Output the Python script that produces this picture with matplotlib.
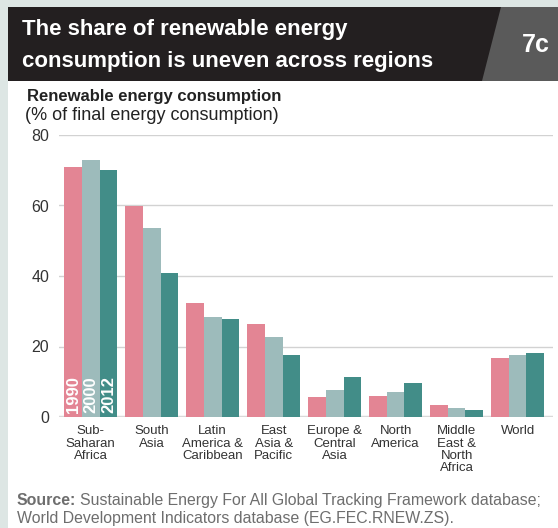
import matplotlib.pyplot as plt
import numpy as np
from matplotlib.patches import Polygon, Rectangle

regions = ["Sub-\nSaharan\nAfrica", "South\nAsia", "Latin\nAmerica &\nCaribbean",
           "East\nAsia &\nPacific", "Europe &\nCentral\nAsia", "North\nAmerica",
           "Middle\nEast &\nNorth\nAfrica", "World"]
years = ["1990", "2000", "2012"]
share_1990 = [70.9, 59.8, 32.3, 26.3, 5.6, 5.9, 3.3, 16.7]
share_2000 = [72.9, 53.6, 28.3, 22.6, 7.6, 7.0, 2.5, 17.5]
share_2012 = [70.0, 40.8, 27.7, 17.5, 11.3, 9.6, 1.9, 18.1]
yticks = [0, 20, 40, 60, 80]

colors = ["#e38594", "#9dbbbb", "#428d88"]
W, H = 558, 528
FONT = ["Liberation Sans", "DejaVu Sans"]
plt.rcParams["font.family"] = FONT

fig = plt.figure(figsize=(W / 100, H / 100), dpi=100)
fig.patch.set_facecolor("white")


def fx(px):
    return px / W


def fy(py):
    return 1 - py / H


# frame: light strips on left and top, dark title bar, grey tag box
fig.add_artist(Rectangle((0, 0), fx(7.5), 1, transform=fig.transFigure,
                         facecolor="#dde6e4", edgecolor="none", zorder=0))
fig.add_artist(Rectangle((0, fy(6.7)), 1, 6.7 / H, transform=fig.transFigure,
                         facecolor="#dde6e4", edgecolor="none", zorder=0))
fig.add_artist(Rectangle((fx(7.5), fy(80.7)), 1, 74 / H, transform=fig.transFigure,
                         facecolor="#231f20", edgecolor="none", zorder=1))
fig.add_artist(Polygon([(fx(501), fy(6.7)), (1, fy(6.7)), (1, fy(80.7)), (fx(482), fy(80.7))],
                       closed=True, transform=fig.transFigure,
                       facecolor="#5a5a5a", edgecolor="none", zorder=2))
fig.text(fx(22), fy(30), "The share of renewable energy", color="white",
         fontsize=16, fontweight="bold", va="center", ha="left", zorder=3)
fig.text(fx(22), fy(62), "consumption is uneven across regions", color="white",
         fontsize=16, fontweight="bold", va="center", ha="left", zorder=3)
fig.text(fx(536), fy(45), "7c", color="white", fontsize=18, fontweight="bold",
         va="center", ha="center", zorder=3)

fig.text(fx(27), fy(97), "Renewable energy consumption", color="#222222",
         fontsize=12, fontweight="bold", va="center", ha="left")
fig.text(fx(25), fy(116), "(% of final energy consumption)", color="#222222",
         fontsize=13, va="center", ha="left")

ax = fig.add_axes([fx(59), fy(417), (553 - 59) / W, (417 - 135) / H])
x = np.arange(len(regions))
bw = 0.29
for i, (vals, c) in enumerate(zip([share_1990, share_2000, share_2012], colors)):
    ax.bar(x + (i - 1) * bw, vals, width=bw, color=c, zorder=3)
    ax.text(x[0] + (i - 1) * bw, 1.2, years[i], rotation=90, ha="center", va="bottom",
            color="white", fontsize=12, fontweight="bold", zorder=4)

ax.set_xlim(-0.52, 7.58)
ax.set_ylim(0, 80)
ax.set_yticks(yticks)
ax.set_yticklabels([str(t) for t in yticks], fontsize=11.5, color="#333333")
ax.set_xticks(x)
ax.set_xticklabels(regions, fontsize=9.5, color="#333333", linespacing=1.02, va="top")
ax.tick_params(length=0, axis="y", pad=7)
ax.tick_params(length=0, axis="x", pad=6)
ax.grid(axis="y", color="#d2d2d2", lw=1.0, zorder=0)
ax.axhline(0, color="#d9d9d9", lw=2.5, zorder=2)
for s in ax.spines.values():
    s.set_visible(False)
ax.set_facecolor("none")

src1 = fig.text(fx(17), fy(505), "Source:", color="#6e6e6e", fontsize=11.4,
                fontweight="bold", va="baseline", ha="left")
fig.canvas.draw()
bb = src1.get_window_extent()
fig.text(bb.x1 / W + fx(4), fy(505),
         "Sustainable Energy For All Global Tracking Framework database;",
         color="#6e6e6e", fontsize=11.4, va="baseline", ha="left")
fig.text(fx(17), fy(523), "World Development Indicators database (EG.FEC.RNEW.ZS).",
         color="#6e6e6e", fontsize=11.4, va="baseline", ha="left")

fig.savefig("out.png", dpi=100)
